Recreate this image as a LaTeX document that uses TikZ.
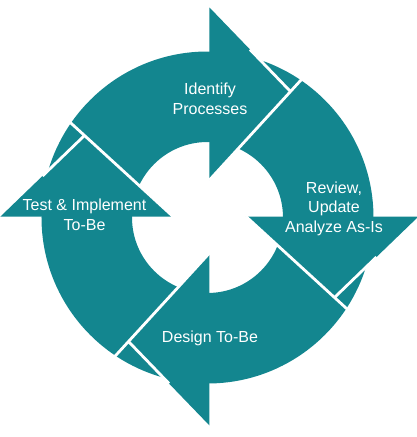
\documentclass[tikz,border=0pt]{standalone}
\usepackage{fontspec}
\setmainfont{Liberation Sans}
\usetikzlibrary{calc}
\definecolor{cyc}{HTML}{13868F}
\begin{document}
\begin{tikzpicture}[x=1pt,y=1pt,
  gapline/.style={white,line width=2.8pt},
  lbl/.style={text=white,font=\fontsize{16}{19.6}\selectfont,align=center,inner sep=0pt,anchor=base}]
\useasboundingbox (-209.5,-220.5) rectangle (206.5,216.5);
% ring
\fill[cyc,even odd rule] (-2,-1) circle (166) (-2,-1) circle (75.5);
% arrow heads
\foreach \k in {0,1,2,3}{
  \begin{scope}[rotate=-90*\k]
    \fill[cyc] (0,209) -- (81,125) -- (0,36.5) -- cycle;
  \end{scope}}
% white gaps
\foreach \k in {0,1,2,3}{
  \begin{scope}[rotate=-90*\k]
    \coordinate (bo\k) at (0,209);
    \coordinate (tp\k) at (81,125);
    \coordinate (bi\k) at (0,36.5);
    \draw[gapline] (bi\k) -- ($(bi\k)!1.25!(tp\k)$);
    \draw[gapline] (tp\k) -- ($(tp\k)!0.5!(bo\k)$);
  \end{scope}}
% labels (anchor base = baseline of last line)
\node[lbl] (identify) at (0.5,102) {Identify\\Processes};
\node[lbl] (review) at (124.5,-16) {Review,\\Update\\Analyze As-Is};
\node[lbl] (design) at (0.5,-126) {Design To-Be};
\node[lbl] (test) at (-125,-13.5) {Test \& Implement\\To-Be};
\end{tikzpicture}
\end{document}
